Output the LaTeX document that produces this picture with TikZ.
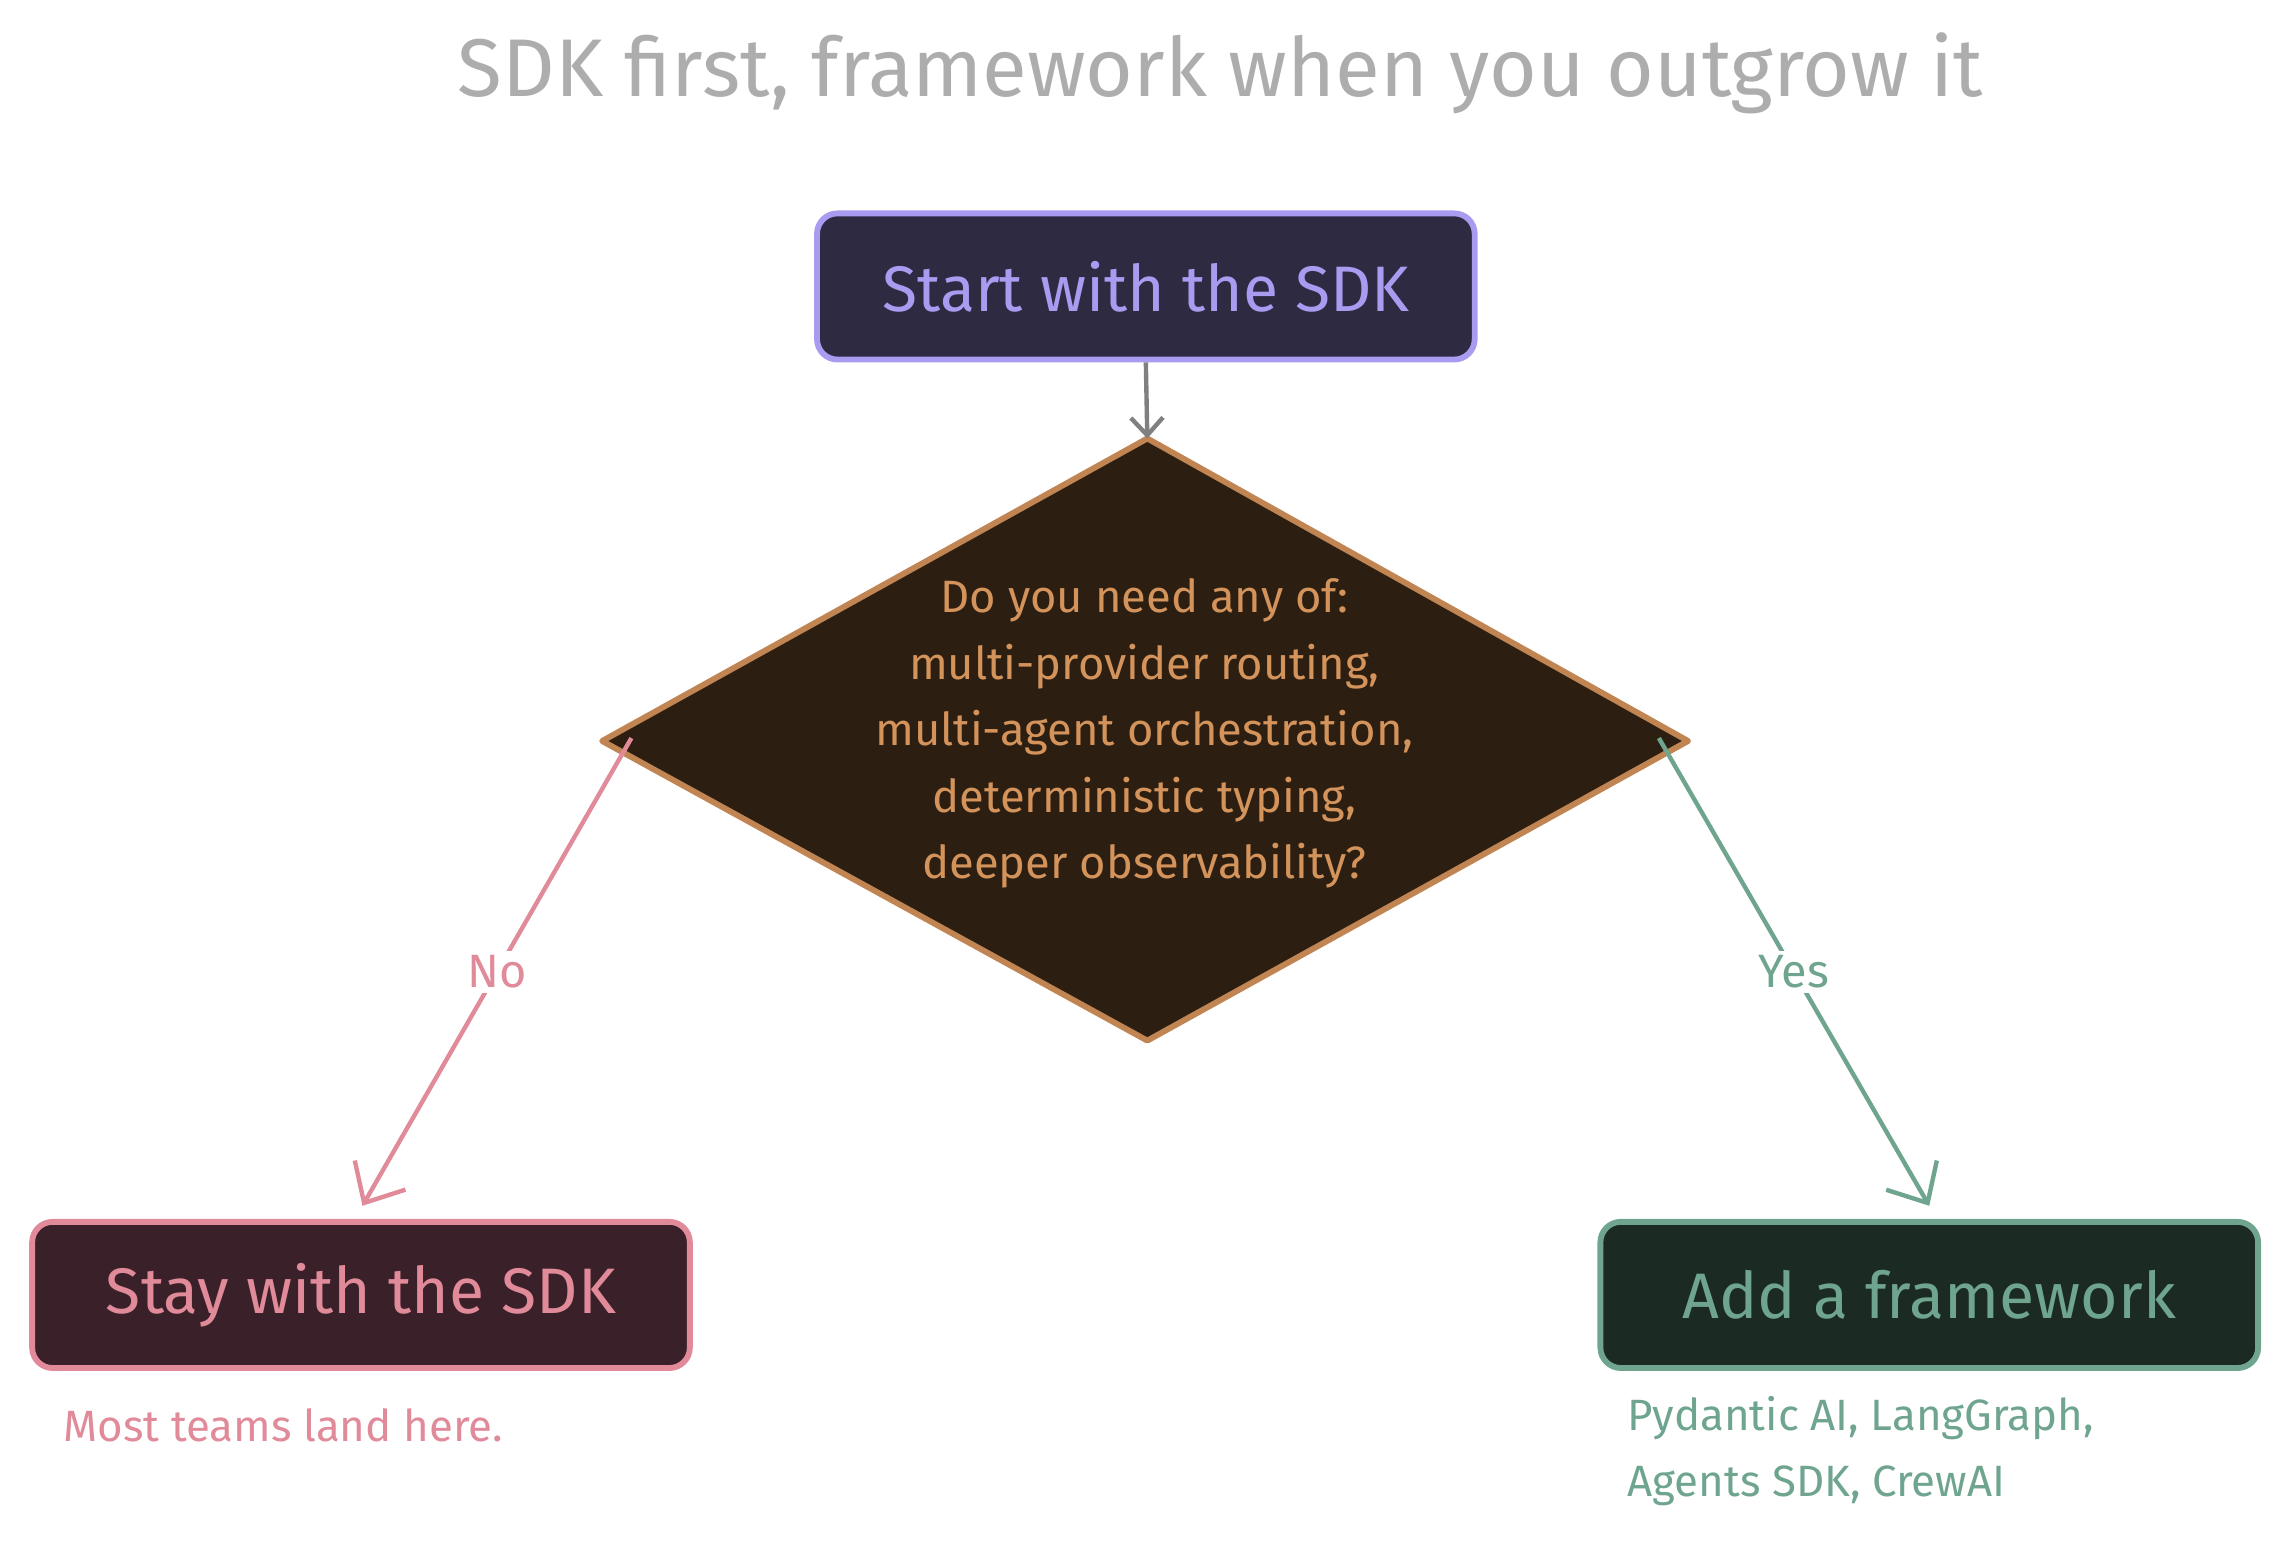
\documentclass[tikz,border=0pt]{standalone}
\usepackage{fontspec}
\setmainfont{Fira Sans}
\usetikzlibrary{arrows.meta}
\definecolor{ttl}{HTML}{ADADAD}
\definecolor{pur}{HTML}{A99BF0}\definecolor{purbg}{HTML}{2D2A42}
\definecolor{org}{HTML}{C08552}\definecolor{orgt}{HTML}{D4935A}\definecolor{orgbg}{HTML}{2C1F12}
\definecolor{pnk}{HTML}{E08A9A}\definecolor{pnkbg}{HTML}{3A2028}
\definecolor{grn}{HTML}{6FA58F}\definecolor{grnbg}{HTML}{1B2A22}
\begin{document}
\begin{tikzpicture}[x=1pt,y=-1pt,
 box/.style={draw=#1,line width=4pt,rounded corners=14pt,minimum width=450pt,minimum height=100pt,font=\fontsize{44}{50}\selectfont},
 arr/.style={line width=3pt,-{Straight Barb[length=22pt,width=40pt]}},
 lbl/.style={font=\fontsize{32}{38}\selectfont}]
\useasboundingbox (0,0) rectangle (1560,1055);
\node[text=ttl,font=\fontsize{56}{62}\selectfont] (t) at (835,50) {SDK first, framework when you outgrow it};
\node[box=pur,fill=purbg,text=pur] (s) at (784,196) {Start with the SDK};
\coordinate (dt) at (785,300); \coordinate (dl) at (412,507);
\coordinate (dr) at (1155,507); \coordinate (db) at (785,712);
\draw[org,line width=4pt,fill=orgbg,line join=round] (dt)--(dr)--(db)--(dl)--cycle;
\node[text=orgt,align=center,font=\fontsize{31}{45.5}\selectfont] (q) at (783,502)
 {Do you need any of:\\multi-provider routing,\\multi-agent orchestration,\\deterministic typing,\\deeper observability?};
\node[box=pnk,fill=pnkbg,text=pnk] (n) at (247,886) {Stay with the SDK};
\node[box=grn,fill=grnbg,text=grn] (y) at (1320,886) {Add a framework};
\draw[gray,line width=3pt,-{Straight Barb[length=12pt,width=22pt]}] (s.south) -- (dt);
\coordinate (nl) at (432,505); \coordinate (yl) at (1135,505);
\coordinate (ne) at (248,825); \coordinate (ye) at (1320,825);
\draw[arr,pnk] (nl) -- (ne) node[pos=0.5,fill=white,inner sep=3pt,lbl,text=pnk] (no) {No};
\draw[arr,grn] (yl) -- (ye) node[pos=0.5,fill=white,inner sep=3pt,lbl,text=grn] (ys) {Yes};
\node[anchor=west,text=pnk,font=\fontsize{30}{36}\selectfont] (c1) at (40,975) {Most teams land here.};
\node[anchor=north west,text=grn,align=left,font=\fontsize{30}{45}\selectfont] (c2) at (1110,952) {Pydantic AI, LangGraph,\\Agents SDK, CrewAI};
\end{tikzpicture}
\end{document}
